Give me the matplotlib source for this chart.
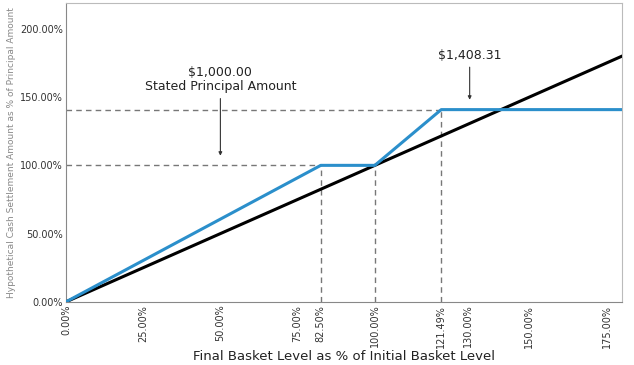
import matplotlib.pyplot as plt

# data
basket = [0, 82.5, 100, 121.49, 180]
payout = [0, 100, 100, 140.83, 140.83]
ref_x = [0, 180]
ref_y = [0, 180]
xticks = [0, 25, 50, 75, 82.5, 100, 121.49, 130, 150, 175]
yticks = [0, 50, 100, 150, 200]

fig = plt.figure(figsize=(6.34, 3.65), dpi=100)
ax = fig.add_axes([0.104, 0.173, 0.877, 0.819])

# guide lines
dash = dict(color='#777777', lw=1, ls=(0, (4, 3)))
ax.plot([0, 82.5], [100, 100], **dash)
ax.plot([0, 121.49], [140.83, 140.83], **dash)
for xv, yv in [(82.5, 100), (100, 100), (121.49, 140.83)]:
    ax.plot([xv, xv], [0, yv], **dash)

ax.plot(ref_x, ref_y, color='black', lw=2.2, zorder=3)
ax.plot(basket, payout, color='#2b8fcb', lw=2.2, zorder=4)

arr = dict(arrowstyle='-|>', color='#333333', lw=0.8, mutation_scale=5)
ax.annotate('$1,000.00\nStated Principal Amount', xy=(50, 105), xytext=(50, 153),
            ha='center', va='bottom', fontsize=9, color='#222222',
            arrowprops=arr, linespacing=1.1)
ax.annotate('$1,408.31', xy=(130.7, 146), xytext=(130.7, 176),
            ha='center', va='bottom', fontsize=9, color='#222222',
            arrowprops=arr)

ax.set_xlim(0, 180)
ax.set_ylim(0, 219)
ax.set_xticks(xticks)
ax.set_xticklabels(['%.2f%%' % v for v in xticks], rotation=90, fontsize=7, color='#333333')
ax.set_yticks(yticks)
ax.set_yticklabels(['%.2f%%' % v for v in yticks], fontsize=7, color='#333333')
ax.tick_params(length=0, pad=2)
for s in ax.spines.values():
    s.set_color('#bbbbbb')
ax.spines['left'].set_color('#888888')
ax.spines['bottom'].set_color('#888888')

ax.set_xlabel('Final Basket Level as % of Initial Basket Level', fontsize=9.5, color='#222222', labelpad=2)
ax.set_ylabel('Hypothetical Cash Settlement Amount as % of Principal Amount', fontsize=6.5, color='#888888', labelpad=3)

fig.savefig('out.png', dpi=100)
